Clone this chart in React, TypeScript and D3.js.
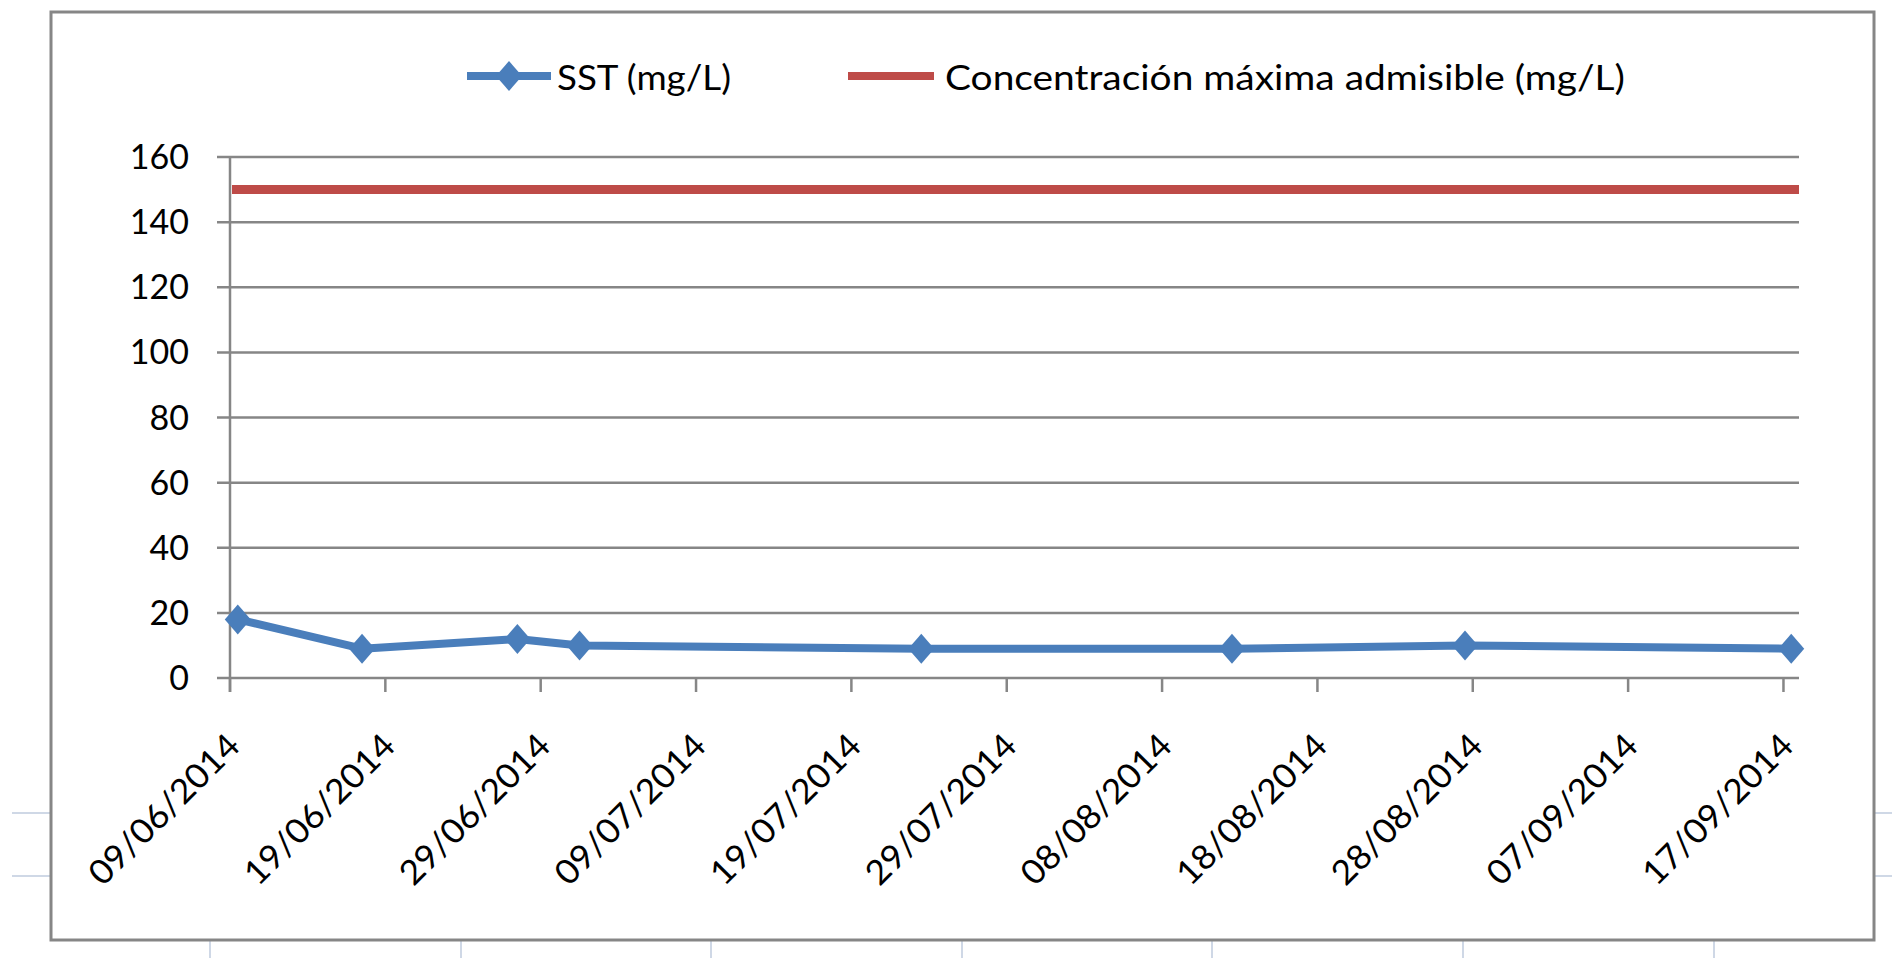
import React from "react";
import * as d3 from "d3";

const sampleDates = ["2014-06-09", "2014-06-17", "2014-06-27", "2014-07-01", "2014-07-23", "2014-08-12", "2014-08-27", "2014-09-17"];
const sstValues = [18, 9, 12, 10, 9, 9, 10, 9];
const limitValue = 150;
const yTickValues = [0, 20, 40, 60, 80, 100, 120, 140, 160];
const xTickLabels = ["09/06/2014", "19/06/2014", "29/06/2014", "09/07/2014", "19/07/2014", "29/07/2014", "08/08/2014", "18/08/2014", "28/08/2014", "07/09/2014", "17/09/2014"];
const seriesNames = ["SST (mg/L)", "Concentración máxima admisible (mg/L)"];

const W = 1892;
const H = 958;
const plot = { left: 230, right: 1799, top: 157, bottom: 678 };
const GRID = "#868686";
const BLUE = "#4a7ebb";
const RED = "#be4b48";
const CELL = "#cfd8e6";
const FONT = "Lato, 'Open Sans', sans-serif";

const parse = (s: string) => {
  const [y, m, d] = s.split("-").map(Number);
  return new Date(Date.UTC(y, m - 1, d));
};
const parseLabel = (s: string) => {
  const [d, m, y] = s.split("/").map(Number);
  return new Date(Date.UTC(y, m - 1, d));
};

export default function App() {
  const start = parseLabel(xTickLabels[0]);
  const end = d3.utcDay.offset(parseLabel(xTickLabels[xTickLabels.length - 1]), 1);
  const x = d3.scaleUtc().domain([start, end]).range([plot.left, plot.right]);
  const y = d3.scaleLinear().domain([0, 160]).range([plot.bottom, plot.top]);

  const pts = sampleDates.map((s, i) => ({
    px: x(d3.utcHour.offset(parse(s), 12)),
    py: y(sstValues[i]),
  }));
  const line = d3.line<{ px: number; py: number }>().x((d) => d.px).y((d) => d.py);

  const diamond = (cx: number, cy: number, hw = 13, hh = 15) =>
    `M${cx},${cy - hh}L${cx + hw},${cy}L${cx},${cy + hh}L${cx - hw},${cy}Z`;

  const cellRows = [813, 876];
  const cellCols = [210, 461, 711, 962, 1212, 1463, 1714];

  return (
    <svg width={W} height={H} style={{ position: "absolute", left: 0, top: 0, background: "#fff" }}>
      {/* spreadsheet cell borders outside chart */}
      {cellRows.map((r) => (
        <g key={"r" + r}>
          <line x1={12} x2={51} y1={r} y2={r} stroke={CELL} strokeWidth={2} />
          <line x1={1875} x2={W} y1={r} y2={r} stroke={CELL} strokeWidth={2} />
        </g>
      ))}
      {cellCols.map((c) => (
        <line key={"c" + c} x1={c} x2={c} y1={940} y2={H} stroke={CELL} strokeWidth={2} />
      ))}
      {/* chart frame */}
      <rect x={51} y={12} width={1823} height={928} fill="#fff" stroke={GRID} strokeWidth={3} />

      {/* gridlines + y labels */}
      {yTickValues.map((v) => (
        <g key={v}>
          <line x1={217} x2={plot.right} y1={y(v)} y2={y(v)} stroke={GRID} strokeWidth={2.5} />
          <text x={189} y={y(v) + 12} textAnchor="end" fontFamily={FONT} fontSize={34} fill="#000">
            {v}
          </text>
        </g>
      ))}
      {/* y axis line */}
      <line x1={plot.left} x2={plot.left} y1={plot.top} y2={692} stroke={GRID} strokeWidth={2.5} />
      {/* x ticks and labels */}
      {xTickLabels.map((lab) => {
        const tx = x(parseLabel(lab));
        return (
          <g key={lab}>
            <line x1={tx} x2={tx} y1={plot.bottom} y2={692} stroke={GRID} strokeWidth={2.5} />
            <text
              transform={`translate(${tx + 12},748) rotate(-45)`}
              textAnchor="end"
              fontFamily={FONT}
              fontSize={34}
              fill="#000"
              textLength={197}
              lengthAdjust="spacingAndGlyphs"
            >
              {lab}
            </text>
          </g>
        );
      })}

      {/* limit line */}
      <line x1={x(start) + 2} x2={x(end)} y1={y(limitValue)} y2={y(limitValue)} stroke={RED} strokeWidth={9} />

      {/* SST series */}
      <path d={line(pts) || ""} fill="none" stroke={BLUE} strokeWidth={8} strokeLinejoin="round" />
      {pts.map((p, i) => (
        <path key={i} d={diamond(p.px, p.py)} fill={BLUE} />
      ))}

      {/* legend */}
      <line x1={467} x2={551} y1={76} y2={76} stroke={BLUE} strokeWidth={8} />
      <path d={diamond(509, 76)} fill={BLUE} />
      <text x={557} y={90} fontFamily={FONT} fontSize={35} fill="#000" textLength={174} lengthAdjust="spacingAndGlyphs">
        {seriesNames[0]}
      </text>
      <line x1={848} x2={934} y1={76} y2={76} stroke={RED} strokeWidth={8} />
      <text x={945} y={90} fontFamily={FONT} fontSize={35} fill="#000" textLength={680} lengthAdjust="spacingAndGlyphs">
        {seriesNames[1]}
      </text>
    </svg>
  );
}
